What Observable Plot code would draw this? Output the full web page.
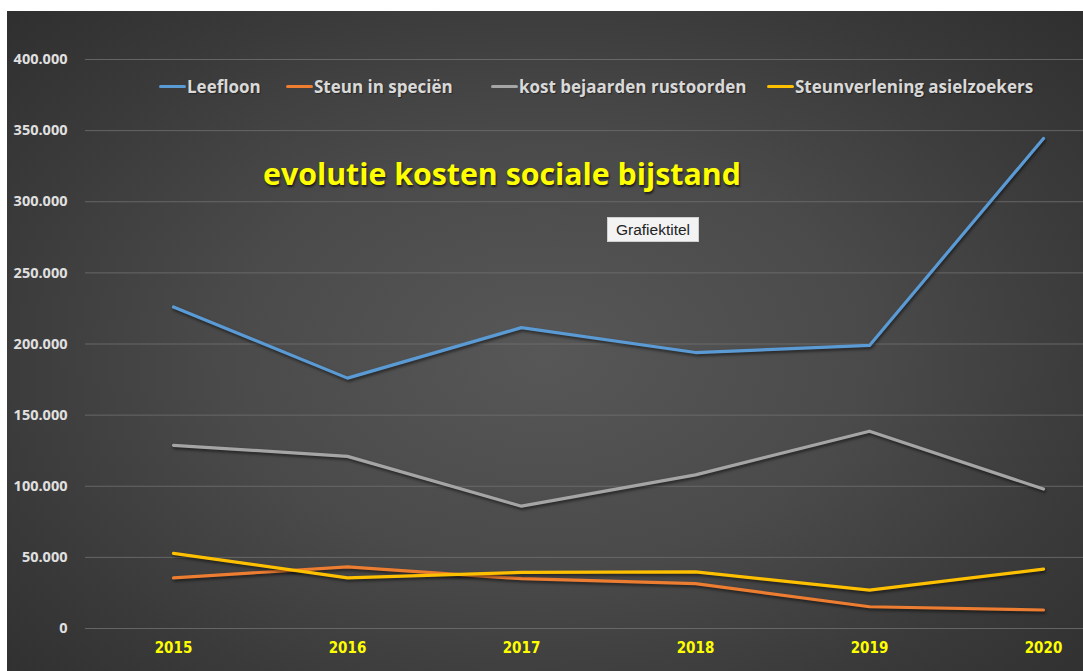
<!DOCTYPE html>
<html>
<head>
<meta charset="utf-8">
<script src="https://cdn.jsdelivr.net/npm/d3@7"></script>
<script src="https://cdn.jsdelivr.net/npm/@observablehq/plot@0.6"></script>
<style>
  html, body { margin: 0; padding: 0; background: #ffffff; width: 1083px; height: 671px; overflow: hidden; }
  #bg {
    position: absolute; left: 7px; top: 11px; right: 0; bottom: 0;
    background: radial-gradient(ellipse 75% 80% at 50% 52%, #575757 0%, #4a4a4a 40%, #3a3a3a 70%, #2c2c2c 100%);
  }
  #chart { position: absolute; left: 0; top: 0; }
  #chart svg { background: transparent !important; overflow: visible; }
  .ser path { filter: drop-shadow(1px 2px 1.5px rgba(0,0,0,0.55)); }
  #title {
    position: absolute; left: 263px; top: 156px; white-space: nowrap;
    font-family: "Open Sans", sans-serif; font-weight: 700; font-size: 30.3px; line-height: 36px;
    color: #ffff00; text-shadow: 1px 2px 2px rgba(0,0,0,0.6);
  }
  #gtitle {
    position: absolute; left: 607px; top: 217px; width: 92px; height: 25px; box-sizing: border-box;
    background: #f3f3f3; border: 1px solid #cfcfcf; color: #222;
    font-family: "Liberation Sans", Arial, sans-serif; font-size: 15.5px; line-height: 23px; text-align: center;
  }
  .leg { position: absolute; top: 74px; height: 24px; display: flex; align-items: center; white-space: nowrap;
    font-family: "Open Sans", sans-serif; font-weight: 700; font-size: 17px; color: #d9d9d9;
    text-shadow: 1px 1px 1px rgba(0,0,0,0.4); }
  .leg .sw { display: inline-block; width: 27px; height: 3px; border-radius: 1.5px; margin-right: 1px; }
</style>
</head>
<body>
<div id="bg"></div>
<div id="chart"></div>
<div id="legend"></div>
<div id="title">evolutie kosten sociale bijstand</div>
<div id="gtitle">Grafiektitel</div>
<script>
// ---- data ----
const years = ["2015", "2016", "2017", "2018", "2019", "2020"];
const seriesNames = ["Leefloon", "Steun in speciën", "kost bejaarden rustoorden", "Steunverlening asielzoekers"];
const seriesColors = ["#5b9bd5", "#ed7d31", "#a5a5a5", "#ffc000"];
const leefloon = [226000, 176000, 211500, 194000, 199000, 344500];
const steunInSpecien = [35600, 43300, 35000, 31500, 15300, 13000];
const kostBejaarden = [128800, 121000, 86000, 108000, 138700, 98000];
const steunverleningAsiel = [52800, 35600, 39400, 39800, 27000, 41700];
const yTicks = [0, 50000, 100000, 150000, 200000, 250000, 300000, 350000, 400000];

const allValues = [leefloon, steunInSpecien, kostBejaarden, steunverleningAsiel];
const data = seriesNames.flatMap((name, i) =>
  years.map((year, j) => ({ year, value: allValues[i][j], name }))
);

const nl = d3.formatLocale({ decimal: ",", thousands: ".", grouping: [3], currency: ["€", ""] });
const fmt = nl.format(",d");

const chart = Plot.plot({
  width: 1083,
  height: 671,
  marginLeft: 85,
  marginRight: 0,
  marginTop: 59,
  marginBottom: 43,
  style: { background: "transparent", overflow: "visible" },
  x: { type: "point", domain: years, range: [172, 1044], padding: 0 },
  y: { domain: [0, 400000] },
  color: { domain: seriesNames, range: seriesColors },
  marks: [
    Plot.gridY(yTicks, { stroke: "#707070", strokeOpacity: 0.8, strokeWidth: 1 }),
    Plot.axisY(yTicks, {
      tickFormat: fmt, tickSize: 0, tickPadding: 18, label: null,
      fill: "#e0e0e0", fontSize: 14.5, fontWeight: "bold", fontFamily: "Open Sans, sans-serif"
    }),
    Plot.axisX({
      tickSize: 0, tickPadding: 14, label: null,
      fill: "#ffff00", fontSize: 15, fontWeight: "bold",
      fontFamily: "Liberation Sans Narrow, DejaVu Sans Condensed, sans-serif"
    }),
    Plot.line(data, {
      x: "year", y: "value", z: "name", stroke: "name",
      strokeWidth: 3.2, strokeLinejoin: "round", strokeLinecap: "round", className: "ser"
    })
  ]
});
document.getElementById("chart").appendChild(chart);

// legend (HTML, positions only)
const legLefts = [159, 286, 491, 767];
const legend = document.getElementById("legend");
seriesNames.forEach((name, i) => {
  const d = document.createElement("div");
  d.className = "leg";
  d.style.left = legLefts[i] + "px";
  const sw = document.createElement("span");
  sw.className = "sw";
  sw.style.background = seriesColors[i];
  d.appendChild(sw);
  d.appendChild(document.createTextNode(name));
  legend.appendChild(d);
});
</script>
</body>
</html>
